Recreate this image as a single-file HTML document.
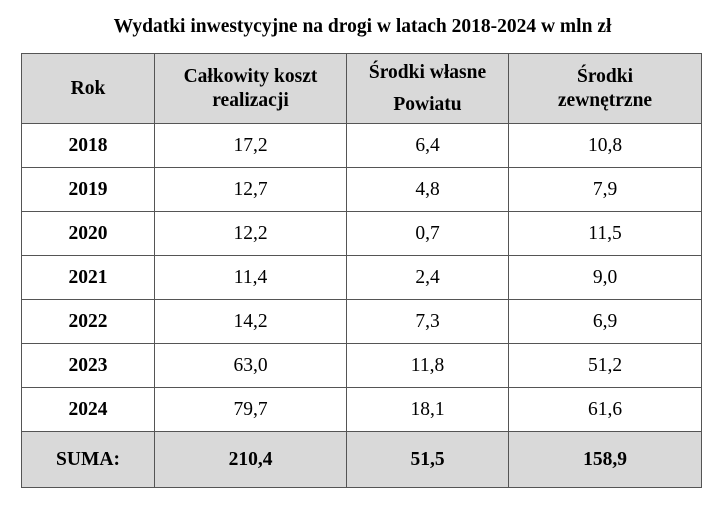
<!DOCTYPE html>
<html><head><meta charset="utf-8"><style>
body{margin:0;width:725px;height:509px;background:#fff;font-family:"Liberation Serif",serif;color:#000;position:relative;overflow:hidden}
#title{position:absolute;left:0;width:725px;top:16px;text-align:center;font-weight:bold;font-size:19.5px}
table{position:absolute;left:21px;top:53px;border-collapse:collapse;table-layout:fixed;width:680px}
td{border:1.5px solid #555;text-align:center;font-size:19.5px;padding:0;line-height:24px}
tr.h td{background:#d9d9d9;font-weight:bold;height:69px}
tr.r td{height:43px}
tr.s td{background:#d9d9d9;font-weight:bold;height:55px}
td.y{font-weight:bold}
</style></head><body>
<div id="title">Wydatki inwestycyjne na drogi w latach 2018-2024 w mln zł</div>
<table>
<colgroup><col style="width:133px"><col style="width:192px"><col style="width:162px"><col style="width:193px"></colgroup>
<tr class="h"><td>Rok</td><td>Całkowity koszt<br>realizacji</td><td style="line-height:32px">Środki własne<br>Powiatu</td><td>Środki<br>zewnętrzne</td></tr>
<tr class="r"><td class="y">2018</td><td>17,2</td><td>6,4</td><td>10,8</td></tr>
<tr class="r"><td class="y">2019</td><td>12,7</td><td>4,8</td><td>7,9</td></tr>
<tr class="r"><td class="y">2020</td><td>12,2</td><td>0,7</td><td>11,5</td></tr>
<tr class="r"><td class="y">2021</td><td>11,4</td><td>2,4</td><td>9,0</td></tr>
<tr class="r"><td class="y">2022</td><td>14,2</td><td>7,3</td><td>6,9</td></tr>
<tr class="r"><td class="y">2023</td><td>63,0</td><td>11,8</td><td>51,2</td></tr>
<tr class="r"><td class="y">2024</td><td>79,7</td><td>18,1</td><td>61,6</td></tr>
<tr class="s"><td>SUMA:</td><td>210,4</td><td>51,5</td><td>158,9</td></tr>
</table>
</body></html>
